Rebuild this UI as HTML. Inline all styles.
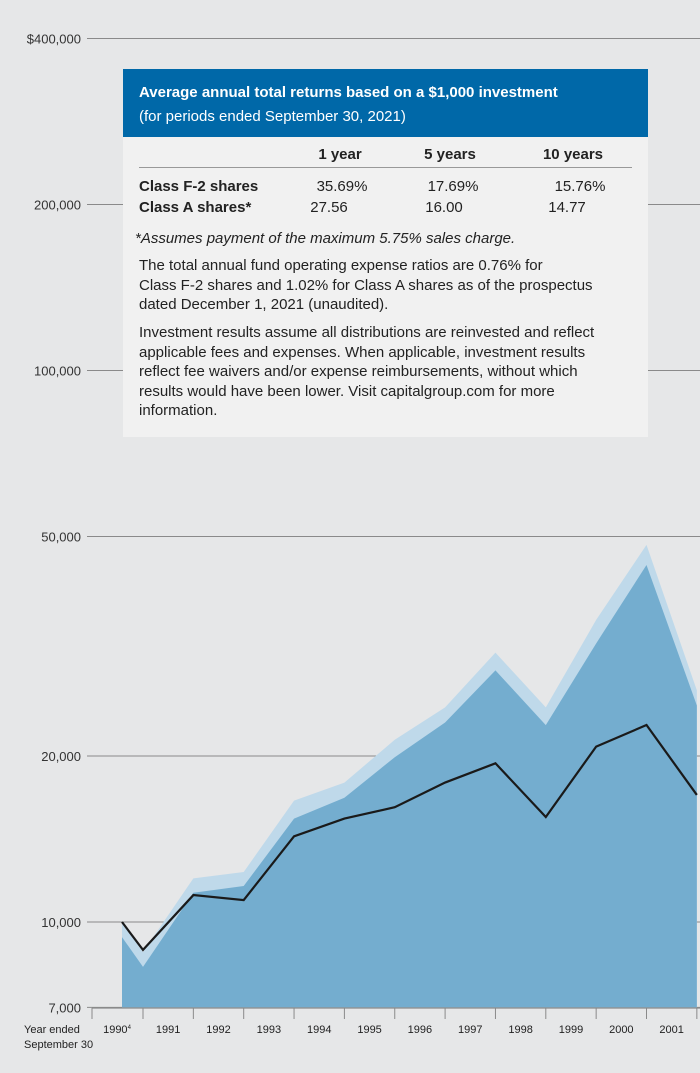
<!DOCTYPE html>
<html><head><meta charset="utf-8"><style>
body{margin:0;background:#e6e7e8;width:700px;height:1073px;overflow:hidden;font-family:"Liberation Sans",sans-serif;}
#box{position:absolute;left:123px;top:69px;width:525px;height:368px;background:#f1f1f1;}
#hdr{background:#0068a8;color:#fff;height:68px;padding:12px 16px 0 16px;box-sizing:border-box;font-size:15px;line-height:24px;}
.c{position:absolute;font-size:15px;color:#222;transform:translateX(-50%);white-space:nowrap;}
.l{position:absolute;font-size:15px;color:#222;font-weight:bold;white-space:nowrap;}
.note{position:absolute;left:16px;width:485px;font-size:15px;line-height:19.5px;color:#222;}
</style></head><body>
<svg id="chart" width="700" height="1073" style="position:absolute;left:0;top:0"></svg>
<div id="box">
<div id="hdr"><b>Average annual total returns based on a $1,000 investment</b><br>(for periods ended September 30, 2021)</div>
<div>
<div class="c" style="left:217px;top:77px;font-weight:bold">1 year</div>
<div class="c" style="left:327px;top:77px;font-weight:bold">5 years</div>
<div class="c" style="left:450px;top:77px;font-weight:bold">10 years</div>
<div style="position:absolute;left:16px;width:493px;top:98px;border-top:1px solid #999"></div>
<div class="l" style="left:16px;top:109px">Class F-2 shares</div>
<div class="c" style="left:219px;top:109px">35.69%</div>
<div class="c" style="left:330px;top:109px">17.69%</div>
<div class="c" style="left:457px;top:109px">15.76%</div>
<div class="l" style="left:16px;top:130px">Class A shares*</div>
<div class="c" style="left:206px;top:130px">27.56</div>
<div class="c" style="left:321px;top:130px">16.00</div>
<div class="c" style="left:444px;top:130px">14.77</div>
</div>
<div class="note" style="top:160px;left:12px;width:510px;font-style:italic">*Assumes payment of the maximum 5.75% sales charge.</div>
<div class="note" style="top:187px;width:510px;white-space:nowrap">The total annual fund operating expense ratios are 0.76% for<br>Class F-2 shares and 1.02% for Class A shares as of the prospectus<br>dated December 1, 2021 (unaudited).</div>
<div class="note" style="top:254px">Investment results assume all distributions are reinvested and reflect applicable fees and expenses. When applicable, investment results reflect fee waivers and/or expense reimbursements, without which results would have been lower. Visit capitalgroup.com for more information.</div>
</div>
<script>
const yearLabels=["1990","1991","1992","1993","1994","1995","1996","1997","1998","1999","2000","2001"];
const lightSeries=[10000,8820,12000,12320,16600,17900,21400,24500,30800,24500,35300,48300,26300];
const darkSeries=[9390,8290,11300,11620,15400,16800,19900,23000,28600,22750,32000,44400,24700];
const lineSeries=[10000,8900,11190,10960,14300,15400,16150,17900,19400,15500,20800,22760,17000];
const yTicks=[400000,200000,100000,50000,20000,10000,7000];
const yTickLabels=["$400,000","200,000","100,000","50,000","20,000","10,000","7,000"];
const svg=document.getElementById('chart');const NS='http://www.w3.org/2000/svg';
function y(v){return 922-166*Math.log2(v/10000);}
function x(i){return i===0?122:143+50.35*(i-1);}
function mk(t,a){const e=document.createElementNS(NS,t);for(const k in a)e.setAttribute(k,a[k]);svg.appendChild(e);return e;}
yTicks.forEach((v,i)=>{
 const l=mk('line',{x1:87,x2:700,y1:y(v),y2:y(v),stroke:'#8a8a8a','stroke-width':1});
 
 
 const t=mk('text',{x:81,y:y(v)+5,'text-anchor':'end','font-size':13,fill:'#333','font-family':'Liberation Sans, sans-serif'});
 t.textContent=yTickLabels[i];
 
 
});
function area(vals,fill,name){
 let d='M'+x(0)+','+y(7000);
 vals.forEach((v,i)=>d+=' L'+x(i)+','+y(v));
 d+=' L'+x(vals.length-1)+','+y(7000)+' Z';
 const p=mk('path',{d:d,fill:fill});
 
 
}
area(lightSeries,'#bfd9ea','class-f2-area');
area(darkSeries,'#74adcf','class-a-area');
const lp=mk('polyline',{points:lineSeries.map((v,i)=>x(i)+','+y(v)).join(' '),fill:'none',stroke:'#1a1a1a','stroke-width':2.2,'stroke-linejoin':'miter'});


const ax=mk('line',{x1:92,x2:700,y1:1008,y2:1008,stroke:'#8a8a8a','stroke-width':1.2});


for(let i=0;i<13;i++){const tx=i===0?92:x(i);
 const tk=mk('line',{x1:tx,x2:tx,y1:1008,y2:1019,stroke:'#8a8a8a','stroke-width':1});
 
 }
yearLabels.forEach((s,i)=>{const cx=i===0?117:(x(i)+x(i+1))/2;
 const t=mk('text',{x:cx,y:1033,'text-anchor':'middle','font-size':11,fill:'#222','font-family':'Liberation Sans, sans-serif'});
 t.textContent=s;
 if(i===0){const sp=document.createElementNS(NS,'tspan');sp.setAttribute('font-size',6);sp.setAttribute('dy',-4);sp.textContent='4';t.appendChild(sp);}
 
 });
['Year ended','September 30'].forEach((s,i)=>{const t=mk('text',{x:24,y:1033+i*15,'font-size':11,fill:'#222','font-family':'Liberation Sans, sans-serif'});t.textContent=s;
 
 });
</script>
</body></html>
